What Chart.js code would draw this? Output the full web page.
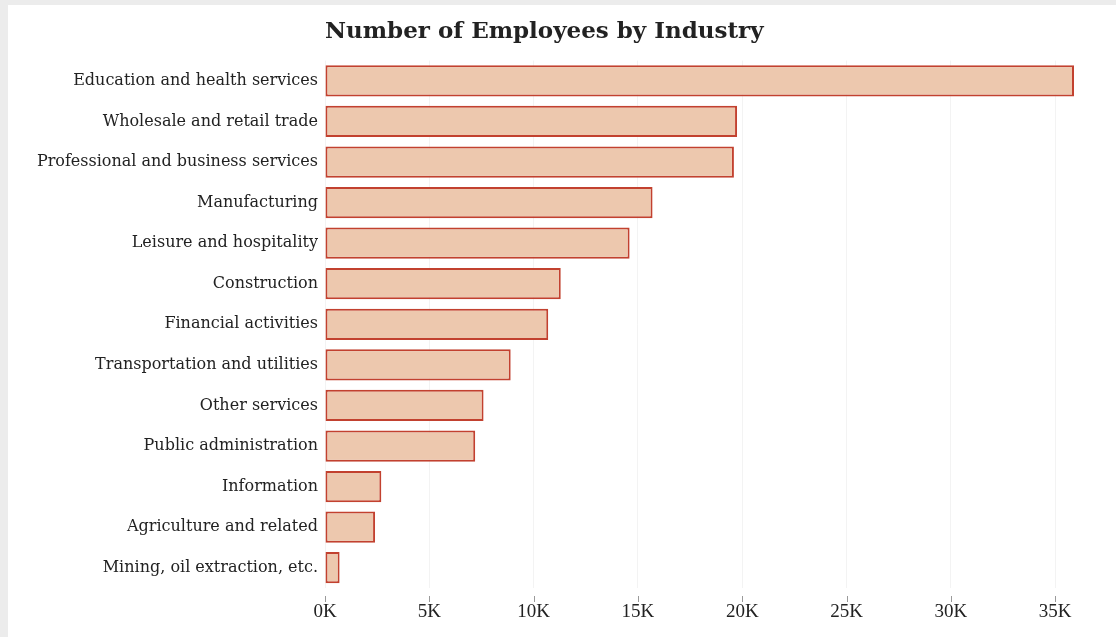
<!DOCTYPE html>
<html>
<head>
<meta charset="utf-8">
<script src="https://cdn.jsdelivr.net/npm/chart.js@4/dist/chart.umd.min.js"></script>
<style>
  html, body { margin: 0; padding: 0; background: #ececec; }
  #panel { position: absolute; left: 8px; top: 5px; width: 1108px; height: 632px; background: #ffffff; }
</style>
</head>
<body>
<div id="panel"><canvas id="chart" width="1108" height="632"></canvas></div>
<script>
var industries = [
  'Education and health services',
  'Wholesale and retail trade',
  'Professional and business services',
  'Manufacturing',
  'Leisure and hospitality',
  'Construction',
  'Financial activities',
  'Transportation and utilities',
  'Other services',
  'Public administration',
  'Information',
  'Agriculture and related',
  'Mining, oil extraction, etc.'
];
var employees = [35900, 19750, 19600, 15700, 14600, 11300, 10700, 8900, 7600, 7200, 2700, 2400, 700];
var tickValues = [0, 5000, 10000, 15000, 20000, 25000, 30000, 35000];

// small tick marks under the plot, detached from it like the original
var tickMarks = {
  id: 'tickMarks',
  afterDraw: function(chart) {
    var ctx = chart.ctx;
    var x = chart.scales.x;
    var bottom = chart.chartArea.bottom;
    ctx.save();
    ctx.strokeStyle = '#9a9a9a';
    ctx.lineWidth = 1;
    x.ticks.forEach(function(t) {
      var px = Math.round(x.getPixelForValue(t.value)) + 0.5;
      ctx.beginPath();
      ctx.moveTo(px, bottom + 8);
      ctx.lineTo(px, bottom + 14);
      ctx.stroke();
    });
    ctx.restore();
  }
};

new Chart(document.getElementById('chart'), {
  type: 'bar',
  data: {
    labels: industries,
    datasets: [{
      data: employees,
      backgroundColor: '#edc8ae',
      borderColor: '#c2412f',
      borderWidth: 2,
      borderSkipped: false,
      barPercentage: 0.77,
      categoryPercentage: 1
    }]
  },
  options: {
    indexAxis: 'y',
    responsive: false,
    animation: false,
    layout: { padding: { top: 0, right: 42, bottom: 0, left: 0 } },
    plugins: {
      legend: { display: false },
      tooltip: { enabled: false },
      title: {
        display: true,
        text: 'Number of Employees by Industry',
        align: 'start',
        fullSize: false,
        color: '#222',
        font: { family: 'DejaVu Serif', size: 23, weight: 'bold' },
        padding: { top: 13, bottom: 15 }
      }
    },
    scales: {
      x: {
        min: 0,
        max: Math.max.apply(null, employees),
        border: { display: false },
        grid: { color: '#f3f3f3', drawTicks: false },
        afterBuildTicks: function(s) {
          s.ticks = tickValues.map(function(v) { return { value: v }; });
        },
        ticks: {
          padding: 13,
          maxRotation: 0,
          autoSkip: false,
          color: '#222',
          font: { family: 'Liberation Serif', size: 19 },
          callback: function(v) { return (v / 1000) + 'K'; }
        },
        afterFit: function(s) { s.height = 49; }
      },
      y: {
        border: { display: false },
        grid: { display: false, drawTicks: false },
        ticks: {
          padding: 7,
          color: '#222',
          font: { family: 'DejaVu Serif', size: 16 }
        },
        afterFit: function(s) { s.width = 317; }
      }
    }
  },
  plugins: [tickMarks]
});
</script>
</body>
</html>
